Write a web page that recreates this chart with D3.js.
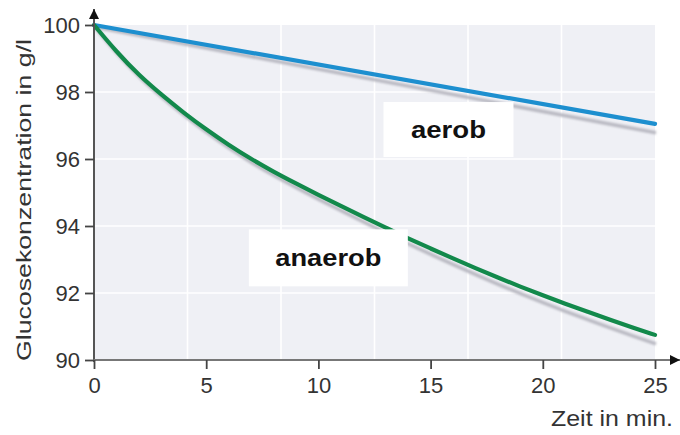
<!DOCTYPE html>
<html>
<head>
<meta charset="utf-8">
<script src="https://cdn.jsdelivr.net/npm/d3@7"></script>
<style>
  html, body { margin: 0; padding: 0; background: #fff; }
  svg { display: block; font-family: "Liberation Sans", Arial, Helvetica, sans-serif; }
</style>
</head>
<body>
<svg id="chart" width="680" height="435"></svg>
<script>
// ---- data ----
const anaerobTime = [0,1,2,3,4,5,6,7,8,9,10,11,12,13,14,15,16,17,18,19,20,21,22,23,24,25];
const anaerobValues = [100,99.2,98.5,97.92,97.38,96.88,96.42,96.0,95.62,95.27,94.93,94.6,94.27,93.95,93.63,93.33,93.03,92.74,92.46,92.19,91.93,91.68,91.44,91.2,90.97,90.75];
const aerobTime = [0, 25];
const aerobValues = [100, 97.05];
const xTicks = [0,5,10,15,20,25];
const yTicks = [90,92,94,96,98,100];
const yLabel = "Glucosekonzentration in g/l";
const xLabel = "Zeit in min.";
const seriesLabels = ["aerob", "anaerob"];

// ---- layout ----
const svg = d3.select("#chart");
const x = d3.scaleLinear().domain([0, 25]).range([94, 655]);
const y = d3.scaleLinear().domain([90, 100]).range([360, 25]);

const defs = svg.append("defs");
defs.append("filter").attr("id", "blur").append("feGaussianBlur").attr("stdDeviation", 1.1);
defs.append("marker").attr("id", "arrow").attr("viewBox", "0 0 10 10")
  .attr("refX", 10).attr("refY", 5).attr("markerWidth", 10).attr("markerHeight", 10)
  .attr("markerUnits", "userSpaceOnUse").attr("orient", "auto")
  .append("path").attr("d", "M0,0 L10,5 L0,10 Z").attr("fill", "#111");

// plot background
svg.append("rect").attr("x", x(0)).attr("y", y(100))
  .attr("width", x(25) - x(0)).attr("height", y(90) - y(100)).attr("fill", "#eff0f5");

// grid
const vGrid = d3.range(1, 6).map(k => 25 * k / 6);
svg.append("g").selectAll("line").data(vGrid).join("line")
  .attr("x1", d => x(d)).attr("x2", d => x(d)).attr("y1", y(100)).attr("y2", y(90))
  .attr("stroke", "#fff").attr("stroke-width", 1.6);
svg.append("g").selectAll("line").data(yTicks.filter(t => t > 90 && t < 100)).join("line")
  .attr("x1", x(0)).attr("x2", x(25)).attr("y1", d => y(d)).attr("y2", d => y(d))
  .attr("stroke", "#fff").attr("stroke-width", 1.6);

// series
const series = [
  { name: "aerob", t: aerobTime, v: aerobValues, color: "#1d8fcf" },
  { name: "anaerob", t: anaerobTime, v: anaerobValues, color: "#12894b" }
];
const line = d3.line().x(d => x(d[0])).y(d => y(d[1])).curve(d3.curveBasis);
const shadowLine = d3.line().x(d => x(d[0]) + 1).y(d => y(d[1]) + 2 + 7 * d[0] / 25).curve(d3.curveBasis);

series.forEach(s => {
  const pts = s.t.map((t, i) => [t, s.v[i]]);
  svg.append("path").datum(pts).attr("d", shadowLine).attr("fill", "none")
    .attr("stroke", "#b9b9c2").attr("stroke-width", 3.5).attr("filter", "url(#blur)");
});
series.forEach(s => {
  const pts = s.t.map((t, i) => [t, s.v[i]]);
  svg.append("path").datum(pts).attr("d", line).attr("fill", "none")
    .attr("stroke", s.color).attr("stroke-width", 4.2).attr("stroke-linecap", "round");
});

// axes lines with arrows
svg.append("line").attr("x1", x(0)).attr("x2", x(0)).attr("y1", y(90) + 2).attr("y2", 9)
  .attr("stroke", "#555").attr("stroke-width", 2).attr("marker-end", "url(#arrow)");
svg.append("line").attr("x1", x(0) - 1).attr("x2", 680).attr("y1", y(90)).attr("y2", y(90))
  .attr("stroke", "#777").attr("stroke-width", 2.2).attr("marker-end", "url(#arrow)");

// y axis ticks
const yAxis = d3.axisLeft(y).tickValues(yTicks).tickSize(9).tickPadding(5);
const gy = svg.append("g").attr("transform", `translate(${x(0)},0)`).call(yAxis);
gy.select(".domain").remove();
gy.selectAll(".tick line").attr("stroke", "#444").attr("stroke-width", 1.8);
gy.selectAll(".tick text").attr("font-size", 22).attr("fill", "#333")
  .attr("font-family", "Liberation Sans, Arial, sans-serif").attr("dy", "0.36em");

// x axis ticks
const xAxis = d3.axisBottom(x).tickValues(xTicks).tickSize(9).tickPadding(8);
const gx = svg.append("g").attr("transform", `translate(0,${y(90)})`).call(xAxis);
gx.select(".domain").remove();
gx.selectAll(".tick line").attr("stroke", "#444").attr("stroke-width", 1.8);
gx.selectAll(".tick text").attr("font-size", 22).attr("fill", "#333")
  .attr("font-family", "Liberation Sans, Arial, sans-serif");

// axis labels
svg.append("text").attr("transform", "translate(31,200) rotate(-90)")
  .attr("text-anchor", "middle").attr("font-size", 21).attr("fill", "#333")
  .attr("textLength", 322).attr("lengthAdjust", "spacingAndGlyphs").text(yLabel);
svg.append("text").attr("x", 673).attr("y", 426).attr("text-anchor", "end")
  .attr("font-size", 22).attr("fill", "#333")
  .attr("textLength", 122).attr("lengthAdjust", "spacingAndGlyphs").text(xLabel);

// label boxes (anchored in data space)
const boxes = [
  { text: seriesLabels[0], t: 12.9, v: 97.7, w: 130, h: 55, tw: 75 },
  { text: seriesLabels[1], t: 6.9, v: 93.9, w: 159, h: 57, tw: 106 }
];
boxes.forEach(b => {
  const bx = x(b.t), by = y(b.v);
  svg.append("rect").attr("x", bx).attr("y", by).attr("width", b.w).attr("height", b.h).attr("fill", "#fff");
  svg.append("text").attr("x", bx + b.w / 2).attr("y", by + b.h / 2 + 8)
    .attr("text-anchor", "middle").attr("font-size", 23).attr("font-weight", "bold").attr("fill", "#111")
    .attr("textLength", b.tw).attr("lengthAdjust", "spacingAndGlyphs").text(b.text);
});
</script>
</body>
</html>
